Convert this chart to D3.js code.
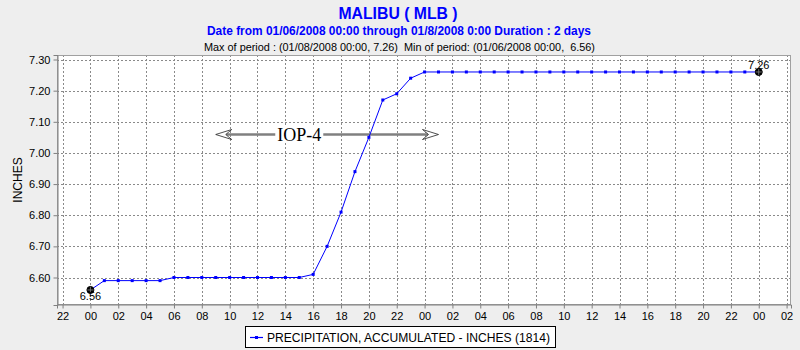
<!DOCTYPE html>
<html>
<head>
<meta charset="utf-8">
<script src="https://cdn.jsdelivr.net/npm/d3@7"></script>
<style>
  html, body { margin: 0; padding: 0; background: #eeeeee; }
  svg { display: block; font-family: "Liberation Sans", Arial, sans-serif; }
</style>
</head>
<body>
<svg id="chart" width="800" height="350"></svg>
<script>
// Hourly accumulated precipitation, Malibu (MLB), starting 01/06/2008 00:00
const startTime = "2008-01-06T00:00:00Z";
const precipInches = [
  6.56, 6.59, 6.59, 6.59, 6.59, 6.59, 6.60, 6.60, 6.60, 6.60,
  6.60, 6.60, 6.60, 6.60, 6.60, 6.60, 6.61, 6.70, 6.81, 6.94,
  7.05, 7.17, 7.19, 7.24, 7.26, 7.26, 7.26, 7.26, 7.26, 7.26,
  7.26, 7.26, 7.26, 7.26, 7.26, 7.26, 7.26, 7.26, 7.26, 7.26,
  7.26, 7.26, 7.26, 7.26, 7.26, 7.26, 7.26, 7.26, 7.26
];
const yTicks = [6.60, 6.70, 6.80, 6.90, 7.00, 7.10, 7.20, 7.30];
const titleText = "MALIBU ( MLB )";
const subtitleText = "Date from 01/06/2008 00:00 through 01/8/2008 0:00 Duration : 2 days";
const extremesText = "Max of period : (01/08/2008 00:00, 7.26)  Min of period: (01/06/2008 00:00,  6.56)";
const yLabel = "INCHES";
const legendText = "PRECIPITATION, ACCUMULATED - INCHES (1814)";
// IOP-4 event span annotation
const eventLabel = "IOP-4";
const eventStart = "2008-01-06T09:00:00Z";
const eventEnd = "2008-01-07T01:00:00Z";
const eventLabelTime = "2008-01-06T15:00:00Z";
const eventLevel = 7.06;

const t0 = new Date(startTime);
const series = precipInches.map((v, i) => ({ t: d3.utcHour.offset(t0, i), v }));

const svg = d3.select("#chart");
const W = 800, H = 350;
const plot = { left: 57, right: 791, top: 55, bottom: 305 };

const x = d3.scaleUtc()
  .domain([d3.utcMinute.offset(t0, -144), d3.utcMinute.offset(t0, 48 * 60 + 139)])
  .range([plot.left, plot.right]);
const y = d3.scaleLinear()
  .domain([6.5117, 7.3145])
  .range([plot.bottom, plot.top]);

const xTickDates = d3.utcHour.every(2).range(d3.utcHour.offset(t0, -2), d3.utcHour.offset(t0, 51));

svg.append("rect").attr("width", W).attr("height", H).attr("fill", "#eeeeee");

// Titles
svg.append("text").attr("x", 398).attr("y", 19).attr("text-anchor", "middle")
  .attr("font-size", 16).attr("font-weight", "bold").attr("fill", "#0000ff")
  .attr("textLength", 119).attr("lengthAdjust", "spacingAndGlyphs").text(titleText);
svg.append("text").attr("x", 399).attr("y", 35).attr("text-anchor", "middle")
  .attr("font-size", 12).attr("font-weight", "bold").attr("fill", "#0000ff")
  .attr("textLength", 384).attr("lengthAdjust", "spacingAndGlyphs").text(subtitleText);
svg.append("text").attr("x", 399.5).attr("y", 51).attr("text-anchor", "middle")
  .attr("font-size", 11).attr("fill", "#000").style("white-space", "pre")
  .attr("textLength", 391).attr("lengthAdjust", "spacingAndGlyphs").text(extremesText);

// Plot background
svg.append("rect")
  .attr("x", plot.left).attr("y", plot.top)
  .attr("width", plot.right - plot.left).attr("height", plot.bottom - plot.top)
  .attr("fill", "#ffffff");

// Grid
const grid = svg.append("g").attr("stroke", "#8a8a8a").attr("stroke-width", 1)
  .attr("stroke-dasharray", "2,2").attr("shape-rendering", "crispEdges");
grid.selectAll("line.h").data(yTicks).join("line")
  .attr("x1", plot.left).attr("x2", plot.right)
  .attr("y1", d => Math.round(y(d)) + 0.5).attr("y2", d => Math.round(y(d)) + 0.5);
grid.selectAll("line.v").data(xTickDates).join("line")
  .attr("x1", d => Math.round(x(d)) + 0.5).attr("x2", d => Math.round(x(d)) + 0.5)
  .attr("y1", plot.top).attr("y2", plot.bottom);

// Frame
svg.append("rect")
  .attr("x", plot.left + 0.5).attr("y", plot.top + 0.5)
  .attr("width", plot.right - plot.left - 1).attr("height", plot.bottom - plot.top - 1)
  .attr("fill", "none").attr("stroke", "#a0a0a0");

// Axes
const yAxis = svg.append("g").attr("transform", `translate(${plot.left + 0.5},0)`)
  .call(d3.axisLeft(y).tickValues(yTicks).tickFormat(d3.format(".2f")).tickSize(4).tickPadding(3));
const xAxis = svg.append("g").attr("transform", `translate(0,${plot.bottom - 0.5})`)
  .call(d3.axisBottom(x).tickValues(xTickDates).tickFormat(d3.utcFormat("%H")).tickSize(4).tickPadding(4));
[yAxis, xAxis].forEach(a => {
  a.select(".domain").attr("stroke", "#808080");
  a.selectAll(".tick line").attr("stroke", "#808080");
  a.selectAll("text").attr("font-size", 11).attr("fill", "#000")
    .attr("font-family", "'Liberation Sans', Arial, sans-serif");
});

svg.append("text")
  .attr("transform", "translate(22,180) rotate(-90)")
  .attr("text-anchor", "middle").attr("font-size", 12).attr("fill", "#000")
  .text(yLabel);

// Event annotation: double-headed arrow with label
const ev = svg.append("g");
const ax1 = x(new Date(eventStart));
const ax2 = x(new Date(eventEnd));
const ay = Math.round(y(eventLevel)) + 0.5;
const labelX = x(new Date(eventLabelTime));
ev.append("line").attr("x1", ax1 + 10).attr("x2", ax2 - 10).attr("y1", ay).attr("y2", ay)
  .attr("stroke", "#808080").attr("stroke-width", 2.5);
ev.append("path")
  .attr("d", `M${ax1},${ay} L${ax1 + 16},${ay - 5} L${ax1 + 10},${ay} L${ax1 + 16},${ay + 5} Z`)
  .attr("fill", "#ffffff").attr("stroke", "#222").attr("stroke-width", 0.8);
ev.append("path")
  .attr("d", `M${ax2},${ay} L${ax2 - 16},${ay - 5} L${ax2 - 10},${ay} L${ax2 - 16},${ay + 5} Z`)
  .attr("fill", "#ffffff").attr("stroke", "#222").attr("stroke-width", 0.8);
ev.append("rect").attr("x", labelX - 24).attr("y", ay - 9).attr("width", 48).attr("height", 17)
  .attr("fill", "#ffffff");
ev.append("text").attr("x", labelX).attr("y", ay + 6.5).attr("text-anchor", "middle")
  .attr("font-family", "'Liberation Serif', 'Times New Roman', serif").attr("font-size", 18)
  .attr("fill", "#000").text(eventLabel);

// Series line and markers
const line = d3.line().x(d => x(d.t)).y(d => y(d.v));
svg.append("path").datum(series).attr("d", line)
  .attr("fill", "none").attr("stroke", "#0000ff").attr("stroke-width", 1);
svg.append("g").selectAll("rect").data(series).join("rect")
  .attr("x", d => x(d.t) - 1.5).attr("y", d => y(d.v) - 1.5)
  .attr("width", 3).attr("height", 3).attr("fill", "#0000ff");

// Min / max markers with value labels
const firstPt = series[0], lastPt = series[series.length - 1];
const markers = svg.append("g");
[firstPt, lastPt].forEach(p => {
  const cx = x(p.t), cy = y(p.v);
  markers.append("circle").attr("cx", cx).attr("cy", cy).attr("r", 3.5)
    .attr("fill", "#000").attr("stroke", "#000");
  markers.append("line").attr("x1", cx - 3).attr("x2", cx + 3).attr("y1", cy).attr("y2", cy)
    .attr("stroke", "#888").attr("stroke-width", 0.8);
  markers.append("line").attr("x1", cx).attr("x2", cx).attr("y1", cy - 3).attr("y2", cy + 3)
    .attr("stroke", "#888").attr("stroke-width", 0.8);
});
markers.append("text").attr("x", x(firstPt.t)).attr("y", y(firstPt.v) + 10.5)
  .attr("text-anchor", "middle").attr("font-size", 11).attr("fill", "#000")
  .text(d3.format(".2f")(firstPt.v));
markers.append("text").attr("x", x(lastPt.t)).attr("y", y(lastPt.v) - 3)
  .attr("text-anchor", "middle").attr("font-size", 11).attr("fill", "#000")
  .text(d3.format(".2f")(lastPt.v));

// Legend
const lg = svg.append("g");
lg.append("rect").attr("x", 245.5).attr("y", 326.5).attr("width", 310).attr("height", 21)
  .attr("fill", "#ffffff").attr("stroke", "#000");
lg.append("line").attr("x1", 250).attr("x2", 263).attr("y1", 337.5).attr("y2", 337.5)
  .attr("stroke", "#0000ff").attr("stroke-width", 1.2);
lg.append("rect").attr("x", 255).attr("y", 336).attr("width", 3).attr("height", 3).attr("fill", "#0000ff");
lg.append("text").attr("x", 267).attr("y", 342).attr("font-size", 12).attr("fill", "#000")
  .attr("textLength", 283).attr("lengthAdjust", "spacingAndGlyphs").text(legendText);
</script>
</body>
</html>
